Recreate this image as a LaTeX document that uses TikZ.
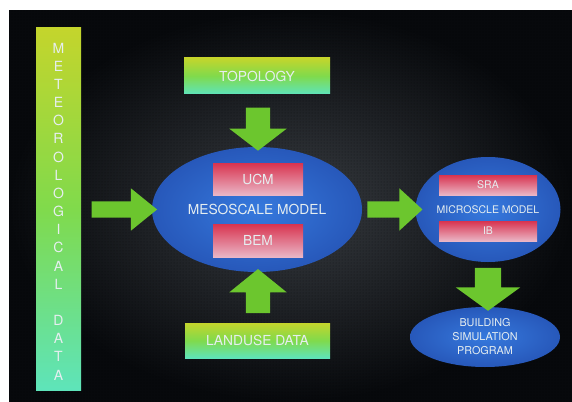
\documentclass[tikz,border=0pt]{standalone}
\usepackage{fontspec}
\setmainfont{TeX Gyre Heros}
\usetikzlibrary{shapes.geometric,shapes.arrows,patterns}
\definecolor{bgin}{HTML}{383C41}
\definecolor{bgout}{HTML}{07090C}
\definecolor{gtop}{HTML}{C4D52C}
\definecolor{gmid}{HTML}{80DA4C}
\definecolor{gbot}{HTML}{5EE4BA}
\definecolor{rtop}{HTML}{D8334F}
\definecolor{rbot}{HTML}{EAB6C6}
\definecolor{bluein}{HTML}{3679DD}
\definecolor{blueout}{HTML}{2758BA}
\definecolor{arrowg}{HTML}{6CC62E}
\definecolor{txt}{HTML}{E6EEF0}
\tikzset{
  greenbox/.style={rectangle, inner sep=0pt, outer sep=0pt, top color=gtop, bottom color=gbot, middle color=gmid, text=txt},
  redbox/.style={rectangle, inner sep=0pt, outer sep=0pt, top color=rtop, bottom color=rbot, text=txt},
  blueell/.style={ellipse, inner sep=0pt, outer sep=0pt, inner color=bluein, outer color=blueout, text=txt},
  barrow/.style={single arrow, fill=arrowg, draw=none, inner xsep=0pt, outer sep=0pt, single arrow head indent=0pt},
  bigfont/.style={font=\fontsize{13.8}{16}\selectfont},
}
\begin{document}
\begin{tikzpicture}[x=1pt,y=-1pt]
\useasboundingbox (0,0) rectangle (572,401);
\fill[white] (0,0) rectangle (572,401);
\shade[inner color=bgin, outer color=bgout] (9,11) rectangle (572,401);
\fill[pattern=dots, pattern color=black, fill opacity=0.45] (9,11) rectangle (572,401);

% meteorological data bar
\node[greenbox, minimum width=45pt, minimum height=362pt] (met) at (58.5,209) {};
\node[text=txt, align=center, font=\fontsize{14}{18.17}\selectfont] (mettext) at (58.5,211.5)
  {M\\E\\T\\E\\O\\R\\O\\L\\O\\G\\I\\C\\A\\L\\[18.17pt]D\\A\\T\\A};

% top and bottom data boxes
\node[greenbox, bigfont, minimum width=146pt, minimum height=36pt] (topo) at (257,76) {TOPOLOGY};
\node[greenbox, bigfont, minimum width=145pt, minimum height=35pt] (land) at (257.5,340.5) {LANDUSE DATA};

% mesoscale model
\node[blueell, bigfont, minimum width=210pt, minimum height=125pt] (meso) at (257,209.5) {MESOSCALE MODEL};
\node[redbox, bigfont, minimum width=90pt, minimum height=32pt] (ucm) at (258,179) {UCM};
\node[redbox, bigfont, minimum width=90pt, minimum height=33pt] (bem) at (258,240.5) {BEM};

% microscale model
\node[blueell, font=\fontsize{10.5}{12}\selectfont, minimum width=142pt, minimum height=105pt] (micro) at (488,209.5) {MICROSCLE MODEL};
\node[redbox, font=\fontsize{10.5}{12}\selectfont, minimum width=98pt, minimum height=20pt] (sra) at (488,185) {SRA};
\node[redbox, font=\fontsize{10.5}{12}\selectfont, minimum width=98pt, minimum height=20pt] (ib) at (488,231) {IB};

% building simulation program
\node[blueell, align=center, font=\fontsize{10.8}{14}\selectfont, minimum width=150pt, minimum height=60pt] (build) at (485,337) {BUILDING\\SIMULATION\\PROGRAM};

% block arrows
\node[barrow, inner ysep=8pt, single arrow head extend=13pt, single arrow tip angle=78, minimum height=65.5pt] (a1) at (119.25,209.5) {};
\node[barrow, inner ysep=8pt, single arrow head extend=13pt, single arrow tip angle=85, minimum height=55pt] (a2) at (390.5,209.5) {};
\node[barrow, rotate=-90, inner ysep=12pt, single arrow head extend=16.5pt, single arrow tip angle=105, minimum height=43pt] (a3) at (258,124.5) {};
\node[barrow, rotate=90, inner ysep=12pt, single arrow head extend=16.5pt, single arrow tip angle=102, minimum height=44pt] (a4) at (258,296) {};
\node[barrow, rotate=-90, inner ysep=13pt, single arrow head extend=19pt, single arrow tip angle=108, minimum height=43pt] (a5) at (488,284.5) {};
\end{tikzpicture}
\end{document}
